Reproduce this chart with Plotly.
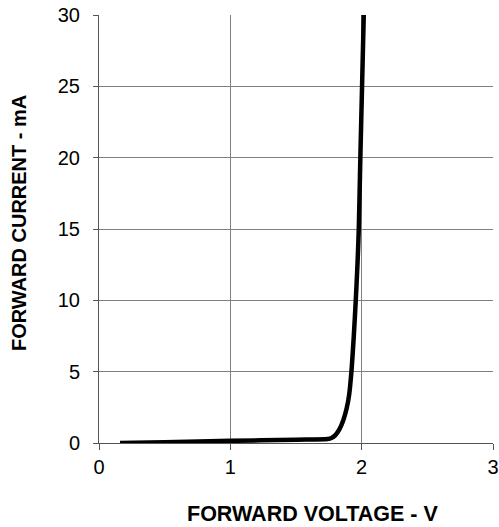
import plotly.graph_objects as go

voltage = [0.16, 0.5, 1.0, 1.5, 1.74, 1.77, 1.80, 1.83, 1.86, 1.885, 1.905, 1.922, 1.94, 1.955, 1.968, 1.978, 1.99, 2.003, 2.016]
current = [0.0, 0.06, 0.15, 0.23, 0.28, 0.35, 0.55, 0.95, 1.6, 2.4, 3.4, 5.0, 7.5, 10.0, 12.5, 15.0, 20.0, 25.0, 30.0]

x_ticks = [0, 1, 2, 3]
y_ticks = [0, 5, 10, 15, 20, 25, 30]

fig = go.Figure()
fig.add_trace(go.Scatter(x=voltage, y=current, mode="lines",
                         line=dict(color="black", width=4.5, shape="spline", smoothing=0.8),
                         showlegend=False))

fig.update_layout(
    width=499, height=527,
    margin=dict(l=99, r=6, t=15, b=84, autoexpand=False),
    paper_bgcolor="white", plot_bgcolor="white",
    font=dict(family="Liberation Sans, Arial, sans-serif", color="black", size=20),
    xaxis=dict(range=[0, 3], tickvals=x_ticks, showgrid=True, gridcolor="#7f7f7f", gridwidth=1,
               showline=True, linecolor="#555555", linewidth=1, ticks="outside", ticklen=6,
               tickcolor="#555555", zeroline=False, fixedrange=True, automargin=False,
               ticklabeloverflow="allow"),
    yaxis=dict(range=[0, 30], tickvals=y_ticks, showgrid=True, gridcolor="#7f7f7f", gridwidth=1,
               showline=True, linecolor="#555555", linewidth=1, ticks="outside", ticklen=5,
               tickcolor="#555555", zeroline=False, fixedrange=True, automargin=False,
               ticklabeloverflow="allow", ticklabelstandoff=9),
    annotations=[
        dict(text="<b>FORWARD VOLTAGE - V</b>", xref="paper", yref="paper", x=0.543, y=-0.166,
             showarrow=False, xanchor="center", yanchor="middle", font=dict(size=21.5)),
        dict(text="<b>FORWARD CURRENT - mA</b>", xref="paper", yref="paper", x=-0.203, y=0.514,
             showarrow=False, xanchor="center", yanchor="middle", textangle=-90, font=dict(size=20)),
    ],
)

fig.write_html("out.html", config={"displayModeBar": False},
               post_script="document.body.style.margin='0';")
